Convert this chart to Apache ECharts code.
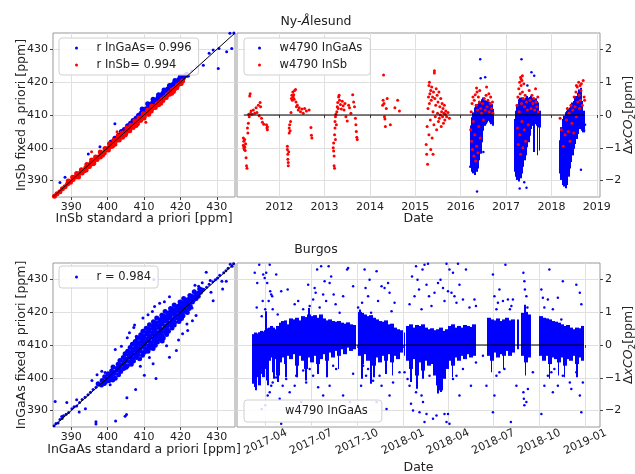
<!DOCTYPE html>
<html>
<head>
<meta charset="utf-8">
<script src="https://cdn.jsdelivr.net/npm/echarts@6/dist/echarts.min.js"></script>
<style>
  html, body { margin: 0; padding: 0; background: #fff; }
  #chart { width: 635px; height: 474px; }
</style>
</head>
<body>
<div id="chart"></div>
<script>
// ---------- Ny-Ålesund: fixed vs standard a priori (ppm) ----------
const nyInGaAsBand = [
  [401.0,401.8],[402.0,402.9],[403.0,403.8],[403.8,405.0],[404.6,405.6],[405.5,406.7],[406.3,407.5],[407.0,408.3],
  [407.8,409.0],[408.5,409.9],[409.2,410.5],[409.9,411.3],[410.6,411.9],[411.3,412.8],[412.0,413.4],[412.6,414.1],
  [413.2,414.6],[413.9,415.4],[414.5,416.0],[415.2,416.6],[415.8,417.3],[416.5,417.9],[417.1,418.5],[417.8,419.2],
  [418.4,419.8],[419.1,420.4],[419.7,421.0],[420.4,421.5],[421.0,421.9],[421.7,422.4],
  [405.0,405.7],[406.1,406.8],[407.4,408.1],[408.8,409.5],[410.0,410.8],[411.2,412.0],[412.5,413.2],[413.7,414.5],
  [414.9,415.6],[416.0,416.9],[417.3,418.0],[418.5,419.3],[419.6,420.4],[420.8,421.3],[422.0,422.1],
  [409.5,411.8],[411.0,413.4],[412.5,414.8],[414.0,416.2],[415.5,417.6],[417.0,419.0],[418.5,420.5],[420.0,421.8]
];
const nyInGaAsSparse = [
  [386.9,389.4],[388.3,391.0],[394.7,398.1],[397.9,400.3],[402.0,407.3],[421.7,421.9],[424.5,424.7],[426.3,425.2],
  [427.9,428.8],[429.0,429.8],[430.6,430.3],[430.4,424.2],[432.7,429.3],[434.1,430.3],[433.6,434.9],[434.7,435.0],
  [423.1,423.5],[420.4,420.9]
];
const nyInSbBand = [
  [385.4,385.2],[386.1,386.0],[386.9,386.6],[387.6,387.5],[388.3,388.1],[389.0,389.0],[389.8,389.5],[390.5,390.3],
  [391.2,391.1],[391.9,391.6],[392.6,392.5],[393.3,393.0],[394.0,393.9],[394.7,394.3],[395.4,395.3],[396.1,395.8],
  [396.8,396.6],[397.5,397.2],[398.2,398.1],[398.9,398.5],[399.6,399.4],[400.3,400.0],[401.0,400.8],[401.7,401.3],
  [402.4,402.2],[403.1,402.7],[403.8,403.6],[404.5,404.1],[405.2,405.0],[405.9,405.5],[406.6,406.4],[407.3,406.9],
  [408.0,407.8],[408.7,408.3],[409.4,409.2],[410.1,409.7],[410.8,410.6],[411.5,411.1],[412.2,412.0],[412.9,412.5],
  [413.6,413.4],[414.3,413.9],[415.0,414.8],[415.7,415.3],[416.4,416.2],[417.1,416.8],[417.8,417.6],[418.5,418.1],
  [419.2,419.0],[419.9,419.5],[420.6,420.4],
  [392.0,391.1],[393.0,392.3],[394.1,393.2],[395.0,394.3],[396.2,395.3],[397.1,396.4],[398.0,397.2],[399.1,398.4],
  [400.2,399.3],[401.1,400.4],[402.0,401.1],[403.2,402.4],[404.1,403.2],[405.0,404.3],[406.1,405.2],[407.0,406.2],
  [408.2,407.3],[409.1,408.4],[410.0,409.1],[411.1,410.3],[412.0,411.2],[413.1,412.3],[414.0,413.1],[415.2,414.4],
  [416.1,415.3],[417.0,416.3],[418.1,417.2],[419.0,418.3],
  [389.2,389.9],[390.4,391.0],[391.5,392.2],[392.8,393.3],[394.3,394.9],[395.6,396.3],[396.7,397.2],[398.0,398.7],
  [399.3,399.8],[400.5,401.2],[401.8,402.3],[402.9,403.6],[404.0,404.5],[405.3,406.0],[406.4,406.9],[407.5,408.2],
  [408.6,409.1],[409.8,410.4],[411.0,411.5],[412.1,412.7],
  [393.6,393.0],[395.9,395.1],[398.6,397.7],[401.4,400.6],[404.8,403.9],[407.8,406.8],[411.3,410.2],[414.6,413.6],
  [417.6,416.6],[420.2,419.6]
];
const nyInSbSparse = [
  [402.6,404.9],[410.5,407.8],[420.4,420.2],[395.6,398.8],[392.9,392.2]
];

// ---------- Ny-Ålesund: ΔxCO2 time series (decimal year, ppm) ----------
// dense InGaAs retrievals summarised as [from, to, low, high] columns
const nyInGaAsColumns = [
  [2016.21,2016.24,-1.55,-0.35],[2016.24,2016.27,-1.70,-0.10],[2016.27,2016.30,-1.75,0.05],[2016.30,2016.33,-1.80,0.20],
  [2016.33,2016.36,-1.70,0.30],[2016.36,2016.39,-1.60,0.28],[2016.39,2016.42,-1.35,0.35],[2016.42,2016.45,-1.15,0.38],
  [2016.45,2016.48,-0.80,0.45],[2016.48,2016.51,-0.45,0.50],[2016.51,2016.54,-0.30,0.42],[2016.54,2016.57,-0.25,0.35],
  [2016.57,2016.60,-0.20,0.40],[2016.60,2016.63,-0.15,0.38],[2016.63,2016.66,-0.20,0.35],[2016.66,2016.69,-0.25,0.30],
  [2016.69,2016.72,-0.30,0.15],
  [2017.18,2017.21,-1.70,-0.15],[2017.21,2017.24,-1.85,0.10],[2017.24,2017.27,-1.95,0.30],[2017.27,2017.30,-2.00,0.45],
  [2017.30,2017.33,-1.90,0.50],[2017.33,2017.36,-1.75,0.50],[2017.36,2017.39,-1.55,0.48],[2017.39,2017.42,-1.35,0.45],
  [2017.42,2017.45,-1.20,0.50],[2017.45,2017.48,-0.95,0.55],[2017.48,2017.51,-0.80,0.50],[2017.51,2017.54,-0.60,0.52],
  [2017.54,2017.57,-0.40,0.55],[2017.57,2017.60,-0.30,0.50],[2017.60,2017.63,-0.35,0.45],[2017.63,2017.66,-0.25,0.48],
  [2017.66,2017.69,-0.30,0.40],[2017.69,2017.72,-0.20,0.35],[2017.72,2017.75,-0.35,0.10],
  [2017.615,2017.625,-1.10,0.00],[2017.685,2017.695,-1.20,-0.20],[2017.735,2017.745,-1.05,-0.30],
  [2018.18,2018.21,-1.75,-0.80],[2018.21,2018.24,-1.95,-0.40],[2018.24,2018.27,-2.10,-0.15],[2018.27,2018.30,-2.15,-0.05],
  [2018.30,2018.33,-2.20,0.05],[2018.33,2018.36,-2.10,0.10],[2018.36,2018.39,-1.85,0.15],[2018.39,2018.42,-1.60,0.20],
  [2018.42,2018.45,-1.40,0.25],[2018.45,2018.48,-1.20,0.35],[2018.48,2018.51,-1.00,0.40],[2018.51,2018.54,-0.85,0.50],
  [2018.54,2018.57,-0.70,0.55],[2018.57,2018.60,-0.55,0.65],[2018.60,2018.63,-0.40,0.75],[2018.63,2018.66,-0.35,0.80],
  [2018.66,2018.69,-0.45,0.40],[2018.69,2018.72,-0.50,0.10]
];
const nyInGaAsScattered = [
  [2016.43,1.70],[2016.54,1.15],[2016.36,-2.33],[2016.21,-1.58],[2016.50,-1.13],[2016.44,1.12],
  [2017.34,1.70],[2017.56,1.30],[2017.62,1.20],[2017.30,-2.24],[2017.45,-2.22],[2017.40,-2.05],[2017.47,0.90],
  [2018.65,-1.67],[2018.72,-0.47],[2018.74,-0.30]
];
const nyInSbSeries = [
  [2011.21,-0.70],[2011.21,-0.92],[2011.22,-1.00],[2011.22,-0.80],[2011.23,-0.95],[2011.23,-1.05],[2011.24,-0.75],
  [2011.24,-0.98],[2011.25,-1.08],[2011.26,-0.88],[2011.27,-1.30],[2011.28,-1.55],[2011.29,-1.62],[2011.30,-0.40],
  [2011.31,-0.55],[2011.32,-0.25],[2011.33,0.02],[2011.34,-0.05],[2011.35,0.58],[2011.36,0.65],[2011.37,0.05],
  [2011.38,0.12],[2011.40,0.02],[2011.43,0.15],[2011.46,0.05],[2011.49,0.22],[2011.51,0.08],[2011.54,0.30],
  [2011.56,-0.02],[2011.58,0.38],[2011.59,0.25],[2011.61,-0.10],[2011.63,-0.22],[2011.66,-0.28],[2011.72,-0.30],
  [2011.73,-0.40],[2011.74,-0.36],[2011.74,-0.45],
  [2012.18,-0.95],[2012.18,-1.05],[2012.19,-1.20],[2012.19,-1.35],[2012.20,-1.45],[2012.20,-1.55],[2012.21,-1.12],
  [2012.22,-0.40],[2012.22,-0.55],[2012.23,-0.30],[2012.24,-0.48],[2012.25,-0.20],[2012.26,0.08],[2012.27,0.50],
  [2012.28,0.60],[2012.29,0.45],[2012.30,0.70],[2012.31,0.55],[2012.32,0.62],[2012.33,0.48],[2012.34,0.75],
  [2012.36,0.78],[2012.37,0.40],[2012.38,0.25],[2012.40,0.30],[2012.42,0.15],[2012.44,0.22],[2012.47,0.10],
  [2012.50,0.18],[2012.53,0.05],[2012.56,0.20],[2012.60,0.12],[2012.66,0.15],[2012.70,-0.38],[2012.71,-0.62],
  [2012.72,-0.70],
  [2013.19,-1.00],[2013.20,-1.10],[2013.20,-0.85],[2013.21,-1.25],[2013.21,-1.55],[2013.22,-1.62],[2013.22,-0.60],
  [2013.23,-0.40],[2013.23,-0.20],[2013.24,-0.05],[2013.24,-0.75],[2013.25,0.02],[2013.26,-0.30],[2013.27,0.10],
  [2013.28,0.25],[2013.29,0.38],[2013.30,0.20],[2013.31,0.55],[2013.32,0.60],[2013.33,0.45],[2013.35,0.32],
  [2013.37,0.18],[2013.39,0.42],[2013.41,0.28],[2013.43,0.15],[2013.45,0.35],[2013.47,-0.05],[2013.50,-0.18],
  [2013.53,0.30],[2013.55,0.22],[2013.58,0.05],[2013.62,0.62],[2013.64,0.40],[2013.66,0.25],[2013.68,-0.10],
  [2013.69,-0.30],[2013.70,-0.50],[2013.71,-0.68],[2013.72,-0.75],
  [2014.28,0.30],[2014.29,0.45],[2014.30,1.22],[2014.31,0.35],[2014.32,-0.05],[2014.33,-0.12],[2014.34,-0.35],
  [2014.36,0.20],[2014.38,0.50],[2014.45,-0.30],[2014.55,0.22],[2014.61,0.45],[2014.65,0.12],
  [2015.24,-0.90],[2015.25,-1.20],[2015.26,-0.35],[2015.27,-1.50],[2015.28,0.20],[2015.29,0.55],[2015.30,0.90],
  [2015.30,-0.60],[2015.31,1.00],[2015.31,0.35],[2015.32,0.65],[2015.33,-0.15],[2015.34,0.75],[2015.34,-1.05],
  [2015.35,0.45],[2015.36,0.85],[2015.37,-0.70],[2015.38,0.55],[2015.39,0.10],[2015.39,-1.20],[2015.40,0.70],
  [2015.41,-0.30],[2015.42,1.35],[2015.42,1.28],[2015.43,0.50],[2015.44,-0.05],[2015.45,0.30],[2015.46,0.80],
  [2015.47,-0.45],[2015.48,0.60],[2015.49,0.05],[2015.50,0.40],[2015.51,-0.20],[2015.52,0.70],[2015.53,-0.10],
  [2015.54,0.25],[2015.55,0.00],[2015.56,0.50],[2015.57,-0.35],[2015.58,0.10],[2015.59,0.35],[2015.60,-0.05],
  [2015.61,0.20],[2015.62,-0.25],[2015.63,0.05],[2015.64,0.30],[2015.65,-0.15],[2015.66,0.02],[2015.67,0.12],
  [2015.69,-0.05],[2015.72,0.08],[2015.75,-0.10],
  [2016.22,-0.45],[2016.23,0.10],[2016.24,-0.80],[2016.25,0.35],[2016.26,-1.05],[2016.27,0.55],[2016.28,-0.20],
  [2016.29,-1.25],[2016.30,0.45],[2016.31,-0.60],[2016.32,0.62],[2016.33,-1.40],[2016.34,0.30],[2016.35,-0.95],
  [2016.36,0.70],[2016.37,0.15],[2016.38,-1.15],[2016.39,0.55],[2016.40,-0.35],[2016.41,0.40],[2016.42,0.75],
  [2016.43,-0.70],[2016.44,0.20],[2016.46,0.05],[2016.48,0.35],[2016.50,-0.15],[2016.52,0.50],[2016.54,0.15],
  [2016.56,0.60],[2016.58,0.25],[2016.60,0.45],[2016.62,0.65],[2016.63,0.10],[2016.65,0.35],[2016.66,0.55],
  [2016.68,0.20],[2016.70,0.40],[2016.71,0.05],[2016.35,0.82],[2016.57,0.85],
  [2017.24,0.30],[2017.25,-0.40],[2017.26,0.55],[2017.27,-0.90],[2017.28,0.80],[2017.29,0.10],[2017.30,1.00],
  [2017.30,-0.60],[2017.31,0.65],[2017.32,1.15],[2017.32,-1.20],[2017.33,0.90],[2017.34,0.35],[2017.35,1.05],
  [2017.35,-0.20],[2017.36,0.70],[2017.37,-1.00],[2017.38,0.50],[2017.39,0.95],[2017.40,-0.45],[2017.41,0.25],
  [2017.42,0.60],[2017.43,-0.80],[2017.45,0.40],[2017.47,0.15],[2017.49,-0.30],[2017.51,0.75],[2017.53,0.45],
  [2017.55,0.20],[2017.57,0.60],[2017.59,0.35],[2017.61,0.50],[2017.63,0.15],[2017.65,0.80],[2017.66,0.40],
  [2017.68,0.25],[2017.70,0.55],[2017.71,0.10],[2017.36,1.20],[2017.33,1.10],
  [2018.19,-0.10],[2018.22,-0.45],[2018.26,-0.95],[2018.30,-0.60],[2018.33,-0.15],[2018.35,0.20],[2018.37,-0.50],
  [2018.39,0.05],[2018.41,-0.80],[2018.43,0.30],[2018.45,-0.25],[2018.47,0.15],[2018.49,-0.55],[2018.50,0.55],
  [2018.52,0.25],[2018.54,0.70],[2018.55,-0.05],[2018.57,0.85],[2018.58,0.40],[2018.60,1.00],[2018.61,0.60],
  [2018.62,0.20],[2018.63,0.90],[2018.64,0.45],[2018.65,0.75],[2018.66,0.95],[2018.68,0.30],[2018.70,1.05],
  [2018.72,0.55],[2018.73,0.45],[2018.55,0.90]
];
const nyZeroSpan = [2011.22, 2018.73];

// ---------- Burgos: fixed vs standard a priori (ppm) ----------
const burgosCore = [
  [397.4,398.2],[398.3,397.8],[399.1,398.3],[398.5,399.2],[399.5,398.9],[400.3,399.1],[401.4,399.3],
  [399.2,400.3],[400.2,399.8],[400.9,400.2],[402.1,399.9],[400.1,401.2],[401.1,400.8],[401.8,401.3],[403.0,400.9],
  [401.1,402.1],[401.8,401.8],[402.7,402.3],[403.6,401.9],[401.5,403.3],[402.6,402.9],[403.2,403.1],[404.4,402.8],
  [405.1,403.2],[402.9,404.1],[403.5,403.8],[404.5,404.2],[405.4,403.7],[406.5,404.1],[403.4,405.3],[404.5,404.8],
  [405.1,405.2],[406.2,404.9],[407.1,405.1],[404.3,406.2],[405.0,405.8],[406.1,406.3],[406.8,405.9],[407.9,406.2],
  [408.8,405.8],[404.8,407.3],[405.9,406.9],[406.6,407.2],[407.7,406.8],[408.3,407.1],[409.6,406.9],[405.5,408.1],
  [406.6,407.8],[407.2,408.3],[408.3,407.9],[409.0,408.2],[410.1,407.8],[411.1,408.1],[406.2,409.2],[407.1,408.8],
  [408.1,409.1],[408.8,408.9],[409.9,409.3],[410.5,408.8],[411.6,409.1],[412.5,408.9],[406.8,410.2],[407.8,409.8],
  [408.5,410.3],[409.6,409.9],[410.3,410.2],[411.3,409.8],[412.0,410.1],[413.1,409.9],[407.6,411.1],[408.3,410.8],
  [409.4,411.2],[410.1,410.9],[411.1,411.3],[411.8,410.8],[412.9,411.1],[413.7,410.9],[415.0,411.2],[408.2,412.2],
  [409.3,411.8],[409.9,412.1],[411.0,411.9],[411.6,412.3],[412.7,411.8],[413.4,412.2],[414.4,411.9],[415.3,412.1],
  [409.1,413.1],[409.9,412.8],[410.9,413.3],[411.5,412.9],[412.6,413.2],[413.2,412.8],[414.3,413.1],[414.9,412.9],
  [416.2,413.2],[409.7,414.2],[410.8,413.8],[411.4,414.1],[412.5,413.9],[413.1,414.3],[414.2,413.8],[414.8,414.1],
  [415.9,413.9],[416.7,414.2],[410.6,415.1],[411.3,414.8],[412.4,415.2],[413.0,414.9],[414.1,415.3],[414.7,414.8],
  [415.8,415.1],[416.4,414.9],[417.7,415.2],[411.5,416.2],[412.5,415.8],[413.2,416.1],[414.2,415.9],[414.9,416.3],
  [415.9,415.8],[416.6,416.2],[417.6,415.9],[418.3,416.1],[412.6,417.1],[413.3,416.8],[414.3,417.2],[415.0,416.9],
  [416.0,417.3],[416.7,416.8],[417.7,417.1],[418.4,416.9],[419.6,417.2],[413.5,418.2],[414.6,417.8],[415.2,418.1],
  [416.3,417.9],[416.9,418.3],[418.0,417.8],[418.6,418.2],[419.7,417.9],[420.3,418.1],[414.9,419.1],[415.5,418.8],
  [416.6,419.2],[417.2,418.9],[418.3,419.3],[418.9,418.8],[420.0,419.1],[420.7,418.9],[415.8,420.2],[416.9,419.8],
  [417.5,420.1],[418.6,419.9],[419.2,420.3],[420.3,419.8],[420.9,420.2],[421.9,419.9],[417.3,421.1],[418.0,420.8],
  [419.0,421.2],[419.7,420.9],[420.7,421.3],[421.4,420.8],[422.4,421.1],[418.3,422.2],[419.4,421.8],[420.0,422.1],
  [421.1,421.9],[421.7,422.3],[422.7,421.8],[419.9,423.1],[420.5,422.8],[421.6,423.2],[422.2,422.9],[423.3,423.1],
  [420.9,424.2],[422.0,423.8],[422.6,424.1],[423.7,423.9],[424.3,424.2],[422.6,425.1],[423.2,424.8],[424.3,425.2],
  [424.9,424.9],[423.8,426.2],[424.9,425.8],[425.5,426.1],[425.3,427.1],[426.0,426.8]
];
const burgosSparse = [
  [385.3,385.4],[385.8,386.1],[386.4,386.2],[386.9,387.3],[387.5,387.6],[387.9,388.4],[388.6,388.9],[389.3,389.4],
  [390.2,390.6],[390.8,391.2],[391.5,391.4],[392.3,392.5],[393.0,393.4],[393.8,394.1],[394.6,394.8],[395.3,395.6],
  [396.0,396.4],[396.8,397.1],
  [385.6,392.8],[387.4,388.2],[388.8,392.5],[391.5,393.3],[392.2,389.6],[393.9,390.6],[396.8,385.9],[396.8,386.6],
  [402.2,386.8],[404.8,388.3],[405.2,388.8],[405.3,393.9],[407.7,396.4],[400.7,397.9],[399.3,401.6],[398.4,402.0],
  [397.1,400.9],[395.7,399.2],
  [402.1,408.6],[403.8,409.6],[404.5,406.6],[405.4,412.2],[406.0,413.7],[407.2,415.3],[407.4,416.1],[407.9,412.7],
  [409.7,418.2],[411.1,419.2],[412.3,420.2],[412.9,421.7],[414.3,422.7],[415.6,423.2],[417.0,424.7],[412.7,430.0],
  [410.1,400.8],[413.3,399.8],[412.5,404.3],[417.0,406.3],[418.9,408.3],[420.6,413.4],[422.0,414.4],[423.3,417.4],
  [424.3,419.0],[416.2,409.8],[419.5,411.5],[421.8,416.4],[409.0,403.5],[411.5,406.2],
  [426.5,426.9],[427.2,427.6],[427.9,428.5],[428.4,426.1],[428.9,429.3],[429.6,429.9],[430.2,430.4],[430.8,431.3],
  [431.4,429.4],[431.9,432.0],[432.5,432.6],[433.1,433.4],[433.7,434.6],[434.2,434.0],[434.6,434.8],[427.1,432.2],
  [428.2,429.7],[432.6,429.4],[425.0,427.9],[422.3,423.8],[423.2,421.3],[429.0,423.5],[431.6,427.1],[426.0,429.0],
  [424.0,428.2]
];

// ---------- Burgos: ΔxCO2 time series ----------
// dense retrievals summarised as [from, to, low, high] columns
const burgosColumns = [
  ['2017-03-06','2017-03-10',-1.15,0.30],['2017-03-10','2017-03-14',-1.25,0.35],['2017-03-14','2017-03-18',-0.95,0.32],
  ['2017-03-18','2017-03-22',-1.20,0.36],['2017-03-22','2017-03-26',-0.85,0.40],['2017-03-26','2017-03-30',-0.95,0.38],
  ['2017-03-30','2017-04-03',-0.70,0.42],['2017-04-03','2017-04-07',-1.05,0.48],['2017-04-07','2017-04-11',-0.45,0.50],
  ['2017-04-11','2017-04-15',-0.35,0.55],['2017-04-15','2017-04-19',-0.80,0.50],['2017-04-19','2017-04-23',-0.40,0.45],
  ['2017-04-23','2017-04-28',-0.90,0.55],['2017-04-28','2017-05-03',-0.50,0.65],['2017-05-03','2017-05-08',-0.35,0.70],
  ['2017-05-08','2017-05-13',-0.55,0.72],['2017-05-13','2017-05-18',-0.30,0.60],['2017-05-18','2017-05-24',-0.40,0.78],
  ['2017-05-24','2017-05-30',-0.25,0.75],['2017-05-30','2017-06-05',-0.60,0.80],['2017-06-05','2017-06-11',-0.30,0.72],
  ['2017-06-11','2017-06-17',-0.45,0.85],['2017-06-17','2017-06-23',-0.70,0.82],['2017-06-23','2017-06-29',-0.35,0.90],
  ['2017-06-29','2017-07-05',-0.50,0.85],['2017-07-05','2017-07-11',-0.30,0.88],['2017-07-11','2017-07-17',-0.55,0.80],
  ['2017-07-17','2017-07-23',-0.40,0.90],['2017-07-23','2017-07-29',-0.25,0.78],['2017-07-29','2017-08-04',-0.45,0.72],
  ['2017-08-04','2017-08-10',-0.20,0.75],['2017-08-10','2017-08-16',-0.35,0.70],['2017-08-16','2017-08-22',-0.15,0.68],
  ['2017-08-22','2017-08-28',-0.30,0.70],['2017-08-28','2017-09-03',-0.10,0.65],['2017-09-03','2017-09-09',-0.25,0.62],
  ['2017-09-09','2017-09-15',-0.05,0.66],['2017-09-15','2017-09-21',-0.15,0.60],['2017-09-21','2017-09-27',-0.10,0.58],
  ['2017-10-04','2017-10-09',-0.30,0.98],['2017-10-09','2017-10-14',-0.55,0.95],['2017-10-14','2017-10-20',-0.25,0.90],
  ['2017-10-20','2017-10-26',-0.45,0.85],['2017-10-26','2017-11-01',-0.30,0.88],['2017-11-01','2017-11-07',-0.60,0.80],
  ['2017-11-07','2017-11-13',-0.35,0.75],['2017-11-13','2017-11-19',-0.50,0.70],['2017-11-19','2017-11-25',-0.30,0.68],
  ['2017-11-25','2017-12-01',-0.45,0.72],['2017-12-01','2017-12-07',-0.25,0.60],['2017-12-07','2017-12-13',-0.50,0.62],
  ['2017-12-13','2017-12-19',-0.30,0.50],['2017-12-19','2017-12-25',-0.40,0.45],['2017-12-25','2017-12-30',-0.20,0.42],
  ['2018-01-03','2018-01-04',-0.30,0.35],
  ['2018-01-08','2018-01-14',-0.45,0.55],['2018-01-14','2018-01-20',-0.70,0.60],['2018-01-20','2018-01-26',-0.40,0.50],
  ['2018-01-26','2018-02-01',-0.90,0.58],['2018-02-01','2018-02-07',-0.50,0.55],['2018-02-07','2018-02-13',-0.75,0.60],
  ['2018-02-13','2018-02-19',-0.45,0.50],['2018-02-19','2018-02-25',-0.60,0.45],['2018-02-25','2018-03-03',-0.55,0.48],
  ['2018-03-03','2018-03-09',-0.90,0.42],['2018-03-09','2018-03-15',-1.20,0.45],['2018-03-15','2018-03-21',-1.35,0.50],
  ['2018-03-21','2018-03-27',-1.00,0.40],['2018-03-27','2018-04-02',-0.70,0.45],['2018-04-02','2018-04-08',-0.45,0.55],
  ['2018-04-08','2018-04-14',-0.60,0.60],['2018-04-14','2018-04-20',-0.35,0.50],['2018-04-20','2018-04-26',-0.45,0.55],
  ['2018-04-26','2018-05-02',-0.30,0.50],['2018-05-02','2018-05-08',-0.40,0.58],['2018-05-08','2018-05-14',-0.25,0.55],
  ['2018-05-14','2018-05-20',-0.35,0.52],['2018-05-20','2018-05-27',-0.30,0.60],
  ['2018-06-19','2018-06-25',-0.30,0.80],['2018-06-25','2018-07-01',-0.45,0.75],['2018-07-01','2018-07-07',-0.20,0.72],
  ['2018-07-07','2018-07-13',-0.35,0.78],['2018-07-13','2018-07-19',-0.25,0.70],['2018-07-19','2018-07-25',-0.30,0.75],
  ['2018-07-25','2018-07-31',-0.15,0.80],['2018-07-31','2018-08-06',-0.30,0.72],['2018-08-06','2018-08-12',-0.20,0.75],
  ['2018-08-19','2018-08-21',-0.10,0.75],
  ['2018-08-26','2018-09-01',-0.30,0.95],['2018-09-01','2018-09-07',-0.50,0.98],['2018-09-07','2018-09-14',-0.35,0.90],
  ['2018-10-01','2018-10-07',-0.30,0.85],['2018-10-07','2018-10-13',-0.45,0.80],['2018-10-13','2018-10-19',-0.30,0.78],
  ['2018-10-19','2018-10-25',-0.55,0.75],['2018-10-25','2018-10-31',-0.35,0.70],['2018-10-31','2018-11-06',-0.40,0.68],
  ['2018-11-06','2018-11-12',-0.50,0.65],['2018-11-12','2018-11-18',-0.35,0.60],['2018-11-18','2018-11-24',-0.60,0.55],
  ['2018-11-24','2018-12-01',-0.40,0.58],['2018-12-01','2018-12-07',-0.45,0.50],['2018-12-07','2018-12-13',-0.30,0.45],
  ['2018-12-13','2018-12-19',-0.55,0.50],['2018-12-19','2018-12-24',-0.35,0.48],['2018-12-24','2018-12-29',-0.45,0.55],
  // single-day streaks
  ['2017-03-12','2017-03-13',-1.35,0],['2017-04-05','2017-04-06',-1.20,0],['2017-04-17','2017-04-18',-1.00,0],
  ['2017-04-25','2017-04-26',-1.10,0],['2017-05-11','2017-05-12',-0.95,0],['2017-06-02','2017-06-03',-0.95,0],
  ['2017-06-20','2017-06-21',-1.05,0],['2017-07-14','2017-07-15',-0.85,0],['2017-08-01','2017-08-02',-0.95,0],
  ['2017-08-24','2017-08-25',-0.70,0],['2017-10-10','2017-10-11',-1.00,0],['2017-10-28','2017-10-29',-1.15,0],
  ['2017-11-03','2017-11-04',-0.95,0],['2017-11-27','2017-11-28',-0.85,0],['2017-12-10','2017-12-11',-0.90,0],
  ['2018-01-16','2018-01-17',-1.10,0],['2018-01-28','2018-01-29',-1.30,0],['2018-02-09','2018-02-10',-1.00,0],
  ['2018-03-12','2018-03-13',-1.45,0],['2018-03-18','2018-03-19',-1.40,0],['2018-04-10','2018-04-11',-0.95,0],
  ['2018-06-27','2018-06-28',-0.80,0],['2018-07-21','2018-07-22',-0.70,0],['2018-09-03','2018-09-04',-0.90,0],
  ['2018-10-21','2018-10-22',-1.00,0],['2018-11-08','2018-11-09',-0.90,0],['2018-11-20','2018-11-21',-0.95,0],
  ['2018-12-15','2018-12-16',-0.95,0],
  ['2017-04-01','2017-04-02',0,1.00],['2017-06-26','2017-06-27',0,1.10],['2017-10-06','2017-10-07',0,1.05],
  ['2018-09-02','2018-09-03',0,1.20]
];
const burgosScattered = [
  ['2017-03-10',2.20],['2017-03-14',1.14],['2017-03-15',1.89],['2017-03-19',2.45],['2017-03-27',2.15],['2017-03-30',2.04],
  ['2017-04-02',2.20],['2017-04-04',1.89],['2017-04-09',2.45],['2017-04-10',1.64],['2017-04-12',1.54],['2017-04-07',1.34],
  ['2017-04-14',1.49],['2017-04-15',1.09],['2017-03-31',1.09],['2017-03-26',1.34],['2017-03-24',0.88],['2017-04-22',2.15],
  ['2017-04-25',0.93],['2017-05-02',1.64],['2017-05-15',1.69],['2017-05-29',1.24],['2017-06-05',1.34],['2017-06-15',1.09],
  ['2017-06-25',1.84],['2017-06-28',1.19],['2017-07-05',1.39],['2017-07-08',1.74],['2017-07-10',1.59],['2017-07-13',2.30],
  ['2017-07-18',1.14],['2017-07-21',2.40],['2017-07-25',1.54],['2017-07-28',1.94],['2017-07-31',1.34],['2017-08-05',2.40],
  ['2017-08-07',1.89],['2017-08-10',2.09],['2017-08-15',1.54],['2017-08-19',1.24],['2017-08-27',0.98],['2017-09-03',1.49],
  ['2017-09-11',2.30],['2017-09-13',2.35],['2017-09-23',1.79],['2017-10-03',1.14],['2017-10-11',1.29],['2017-10-16',2.30],
  ['2017-10-18',1.74],['2017-10-23',1.49],['2017-10-26',1.99],['2017-10-29',0.98],['2017-11-09',2.25],['2017-11-12',1.34],
  ['2017-11-19',1.79],['2017-11-25',1.74],['2017-12-02',1.89],['2017-12-05',1.59],['2017-12-09',1.03],['2017-12-15',1.29],
  ['2018-01-14',1.24],['2018-01-19',2.09],['2018-01-24',1.49],['2018-01-27',2.40],['2018-01-30',1.99],['2018-02-02',1.69],
  ['2018-02-07',1.09],['2018-02-09',2.30],['2018-02-13',2.45],['2018-02-17',1.84],['2018-02-20',2.48],['2018-02-22',1.49],
  ['2018-02-27',1.19],['2018-03-05',1.59],['2018-03-12',1.89],['2018-03-17',1.99],['2018-03-22',1.74],['2018-03-25',1.34],
  ['2018-03-29',2.48],['2018-04-01',1.64],['2018-04-04',2.30],['2018-04-08',1.59],['2018-04-11',2.20],['2018-04-14',1.49],
  ['2018-04-18',1.29],['2018-04-21',2.48],['2018-04-24',1.84],['2018-05-01',1.39],['2018-05-07',2.30],['2018-05-14',1.14],
  ['2018-05-24',1.39],['2018-05-27',1.19],['2018-06-30',2.15],['2018-07-03',1.49],['2018-07-07',1.09],['2018-07-10',1.29],
  ['2018-07-13',1.69],['2018-07-20',1.34],['2018-07-25',2.45],['2018-07-30',1.39],['2018-08-03',1.09],['2018-08-06',1.19],
  ['2018-08-09',1.39],['2018-08-30',2.20],['2018-09-01',1.94],['2018-09-02',1.69],['2018-09-05',1.49],['2018-09-07',1.14],
  ['2018-10-05',1.69],['2018-10-08',1.44],['2018-10-11',1.14],['2018-10-18',1.39],['2018-10-21',2.30],['2018-10-28',1.09],
  ['2018-11-07',1.44],['2018-11-14',0.78],['2018-11-17',1.94],['2018-12-14',1.84],['2018-12-21',1.59],['2018-12-24',1.24],
  ['2017-03-24',-1.95],['2017-03-31',-1.84],['2017-04-05',-1.54],['2017-04-09',-1.44],['2017-04-12',-1.24],['2017-04-15',-1.14],
  ['2017-04-22',-0.99],['2017-04-29',-1.64],['2017-05-02',-2.40],['2017-05-05',-1.24],['2017-05-12',-1.04],['2017-05-19',-1.44],
  ['2017-05-29',-1.24],['2017-06-01',-0.94],['2017-06-11',-1.74],['2017-06-15',-0.78],['2017-06-21',-1.14],['2017-06-28',-0.73],
  ['2017-07-05',-0.94],['2017-07-15',-1.29],['2017-07-25',-1.54],['2017-08-07',-1.24],['2017-08-14',-0.63],['2017-08-20',-0.73],
  ['2017-09-03',-1.54],['2017-09-16',-1.74],['2017-09-23',-0.88],['2017-10-09',-1.24],['2017-10-13',-0.63],['2017-10-19',-0.94],
  ['2017-10-23',-0.73],['2017-11-02',-1.09],['2017-11-09',-1.74],['2017-11-15',-0.94],['2017-11-19',-1.24],['2017-11-29',-1.95],
  ['2017-12-05',-1.54],['2017-12-12',-1.14],['2017-12-25',-0.83],['2018-01-04',-0.83],['2018-01-10',-1.04],['2018-01-14',-1.24],
  ['2018-01-17',-1.79],['2018-01-21',-2.00],['2018-01-27',-1.44],['2018-02-03',-2.05],['2018-02-07',-1.54],['2018-02-10',-1.74],
  ['2018-02-13',-2.35],['2018-02-17',-2.10],['2018-02-23',-0.94],['2018-03-02',-2.25],['2018-03-09',-2.15],['2018-03-14',-1.34],
  ['2018-03-19',-1.24],['2018-03-25',-2.10],['2018-03-29',-2.35],['2018-04-01',-2.10],['2018-04-04',-2.40],['2018-04-11',-1.04],
  ['2018-04-18',-0.94],['2018-04-24',-1.54],['2018-05-01',-0.73],['2018-05-17',-1.24],['2018-05-27',-0.53],['2018-06-10',-0.33],
  ['2018-06-17',-1.24],['2018-06-30',-2.05],['2018-07-03',-1.54],['2018-07-07',-0.94],['2018-07-13',-0.83],['2018-07-23',-0.73],
  ['2018-08-05',-2.35],['2018-08-16',-1.24],['2018-08-30',-1.44],['2018-08-31',-1.64],['2018-09-01',-1.84],['2018-09-05',-1.74],
  ['2018-09-08',-1.34],['2018-09-18',-0.83],['2018-10-05',-2.10],['2018-10-11',-1.24],['2018-10-18',-0.94],['2018-10-25',-0.83],
  ['2018-10-28',-1.44],['2018-10-31',-0.73],['2018-11-07',-1.24],['2018-11-17',-0.94],['2018-12-01',-1.14],['2018-12-04',-1.34],
  ['2018-12-14',-0.83],['2018-12-21',-1.54],['2018-12-24',-2.05],['2018-12-27',-1.14]
];
const burgosZeroSpan = ['2017-03-05', '2018-12-29'];

// ---------- axes ----------
const ppmTicks = [390, 400, 410, 420, 430];
const deltaTicks = [-2, -1, 0, 1, 2];
const yearTicks = [2012, 2013, 2014, 2015, 2016, 2017, 2018, 2019];
const quarterTicks = ['2017-04-01','2017-07-01','2017-10-01','2018-01-01','2018-04-01','2018-07-01','2018-10-01','2019-01-01'];

const FONT = 'DejaVu Sans';
const BLUE = '#0000ff';
const RED = '#ff0000';
const day = s => Date.parse(s);

const chart = echarts.init(document.getElementById('chart'), null, { renderer: 'canvas' });

const minus = v => String(v).replace('-', '\u2212');

function gridBox(left, top) {
  return { left, top, width: left === 53 ? 182 : 363, height: 164, show: true, borderColor: '#999', borderWidth: 1,
           backgroundColor: 'transparent', containLabel: false, outerBoundsMode: 'none' };
}
function baseAxis(extra) {
  return Object.assign({
    axisLine: { show: false },
    axisTick: { show: true, length: 3, lineStyle: { color: '#444', width: 1 } },
    axisLabel: { color: '#222', fontFamily: FONT, fontSize: 11, margin: 5 },
    splitLine: { show: true, lineStyle: { color: '#e0e0e0', width: 1 } },
    nameTextStyle: { color: '#222', fontFamily: FONT, fontSize: 12.5 },
    nameLocation: 'middle',
    nameMoveOverlap: false
  }, extra);
}
function ppmAxis(gridIndex, name, isY, gap) {
  const a = baseAxis({ type: 'value', gridIndex, min: 385, max: 435, name, nameGap: gap });
  a.axisTick = Object.assign({}, a.axisTick, { customValues: ppmTicks });
  a.axisLabel = Object.assign({}, a.axisLabel, { customValues: ppmTicks });
  if (isY) a.nameRotate = 90;
  return a;
}
function deltaAxis(gridIndex) {
  const a = baseAxis({
    type: 'value', gridIndex, min: -2.5, max: 2.5, position: 'right',
    name: '{a|\u0394}{i|xCO}{s|2}{a|[ppm]}', nameGap: 21, nameRotate: 90
  });
  a.axisTick = Object.assign({}, a.axisTick, { customValues: deltaTicks });
  a.axisLabel = Object.assign({}, a.axisLabel, { customValues: deltaTicks, formatter: v => minus(v), margin: 5 });
  a.nameTextStyle = Object.assign({}, a.nameTextStyle, {
    rich: {
      a: { fontFamily: FONT, fontSize: 12.5, color: '#222' },
      i: { fontFamily: FONT, fontSize: 12.5, color: '#222', fontStyle: 'italic' },
      s: { fontFamily: FONT, fontSize: 9, color: '#222', padding: [7, 0, 0, 0] }
    }
  });
  return a;
}

function columnSeries(name, xIndex, yIndex, rows, toX) {
  return {
    type: 'custom', name, xAxisIndex: xIndex, yAxisIndex: yIndex, clip: true, silent: true,
    encode: { x: [0, 1], y: [2, 3] },
    data: rows.map(r => [toX(r[0]), toX(r[1]), r[2], r[3]]),
    renderItem: (params, api) => {
      const a = api.coord([api.value(0), api.value(3)]);
      const b = api.coord([api.value(1), api.value(2)]);
      const x0 = Math.floor(a[0]), x1 = Math.max(x0 + 1, Math.ceil(b[0]));
      return {
        type: 'rect',
        shape: { x: x0, y: a[1] - 1, width: x1 - x0, height: Math.max(1, b[1] - a[1]) + 2 },
        style: { fill: BLUE, stroke: null }
      };
    }
  };
}
function dots(name, xIndex, yIndex, data, color, size) {
  return { type: 'scatter', name, xAxisIndex: xIndex, yAxisIndex: yIndex, data, symbol: 'circle',
           symbolSize: size, itemStyle: { color, opacity: 1 }, silent: true, animation: false, large: false };
}
function refLine(xIndex, yIndex, data) {
  return { type: 'line', xAxisIndex: xIndex, yAxisIndex: yIndex, data, symbol: 'none', silent: true,
           lineStyle: { color: '#000', width: 1 }, z: 5, animation: false };
}

const legendText = { fontFamily: FONT, fontSize: 11.5, color: '#222', lineHeight: 14 };
function legendBox(left, top, items, padding) {
  return {
    left, top, orient: 'vertical', itemWidth: 30, itemHeight: 3, itemGap: 3, padding,
    backgroundColor: 'rgba(255,255,255,0.85)', borderColor: '#d0d0d0', borderWidth: 1, borderRadius: 3,
    textStyle: legendText, selectedMode: false, data: items
  };
}

const option = {
  animation: false,
  textStyle: { fontFamily: FONT },
  title: [
    { text: 'Ny-{i|\u00c5}lesund', left: 311, top: 10, textAlign: 'center',
      textStyle: { fontFamily: FONT, fontSize: 12.5, fontWeight: 'normal', color: '#222',
        rich: { i: { fontFamily: FONT, fontSize: 12.5, fontStyle: 'italic', color: '#222' } } } },
    { text: 'Burgos', left: 311, top: 238, textAlign: 'center',
      textStyle: { fontFamily: FONT, fontSize: 12.5, fontWeight: 'normal', color: '#222' } }
  ],
  grid: [gridBox(53, 33), gridBox(237, 33), gridBox(53, 263), gridBox(237, 263)],
  xAxis: [
    ppmAxis(0, 'InSb standard a priori [ppm]', false, 15),
    (() => {
      const a = baseAxis({ type: 'value', gridIndex: 1, min: 2011.07, max: 2019.07, name: 'Date', nameGap: 15 });
      a.axisTick = Object.assign({}, a.axisTick, { customValues: yearTicks });
      a.axisLabel = Object.assign({}, a.axisLabel, { customValues: yearTicks, formatter: v => String(Math.round(v)) });
      return a;
    })(),
    ppmAxis(2, 'InGaAs standard a priori [ppm]', false, 16),
    (() => {
      const a = baseAxis({ type: 'value', gridIndex: 3, min: day('2017-02-02') + 12 * 3600e3,
                           max: day('2019-01-30') + 10 * 3600e3, name: 'Date', nameGap: 34 });
      const q = quarterTicks.map(day);
      a.axisTick = Object.assign({}, a.axisTick, { customValues: q });
      a.axisLabel = Object.assign({}, a.axisLabel, {
        customValues: q, rotate: 25, margin: 15, align: 'center', verticalAlign: 'middle',
        formatter: v => new Date(v).toISOString().slice(0, 7)
      });
      return a;
    })()
  ],
  yAxis: [
    ppmAxis(0, 'InSb fixed a priori [ppm]', true, 25),
    deltaAxis(1),
    ppmAxis(2, 'InGaAs fixed a priori [ppm]', true, 25),
    deltaAxis(3)
  ],
  legend: [
    legendBox(59, 38, [
      { name: 'r InGaAs= 0.996', icon: 'circle', itemStyle: { color: BLUE } },
      { name: 'r InSb= 0.994', icon: 'circle', itemStyle: { color: RED } }
    ], [3, 7, 3, 16]),
    legendBox(244, 38, [
      { name: 'w4790 InGaAs', icon: 'circle', itemStyle: { color: BLUE } },
      { name: 'w4790 InSb', icon: 'circle', itemStyle: { color: RED } }
    ], [3, 8, 3, 14]),
    legendBox(59, 266, [
      { name: 'r = 0.984', icon: 'circle', itemStyle: { color: BLUE } }
    ], [4, 7, 4, 16]),
    legendBox(244, 400, [
      { name: 'w4790 InGaAs', icon: 'none' }
    ], [4, 14, 4, 6])
  ],
  series: [
    // Ny-Ålesund correlation
    dots('r InGaAs= 0.996', 0, 0, nyInGaAsBand, BLUE, 5),
    dots('r InGaAs= 0.996', 0, 0, nyInGaAsSparse, BLUE, 3),
    dots('r InSb= 0.994', 0, 0, nyInSbBand, RED, 5),
    dots('r InSb= 0.994', 0, 0, nyInSbSparse, RED, 3),
    refLine(0, 0, [[385, 385], [435, 435]]),
    // Ny-Ålesund time series
    columnSeries('ny-columns', 1, 1, nyInGaAsColumns, v => v),
    dots('w4790 InGaAs', 1, 1, nyInGaAsScattered, BLUE, 2.5),
    dots('w4790 InSb', 1, 1, nyInSbSeries, RED, 3),
    refLine(1, 1, [[nyZeroSpan[0], 0], [nyZeroSpan[1], 0]]),
    // Burgos correlation
    dots('r = 0.984', 2, 2, burgosCore, BLUE, 5),
    dots('r = 0.984', 2, 2, burgosSparse, BLUE, 3),
    refLine(2, 2, [[385, 385], [435, 435]]),
    // Burgos time series
    columnSeries('burgos-columns', 3, 3, burgosColumns, day),
    dots('w4790 InGaAs', 3, 3, burgosScattered.map(p => [day(p[0]), p[1]]), BLUE, 2.5),
    refLine(3, 3, [[day(burgosZeroSpan[0]), 0], [day(burgosZeroSpan[1]), 0]])
  ]
};

chart.setOption(option);
</script>
</body>
</html>
